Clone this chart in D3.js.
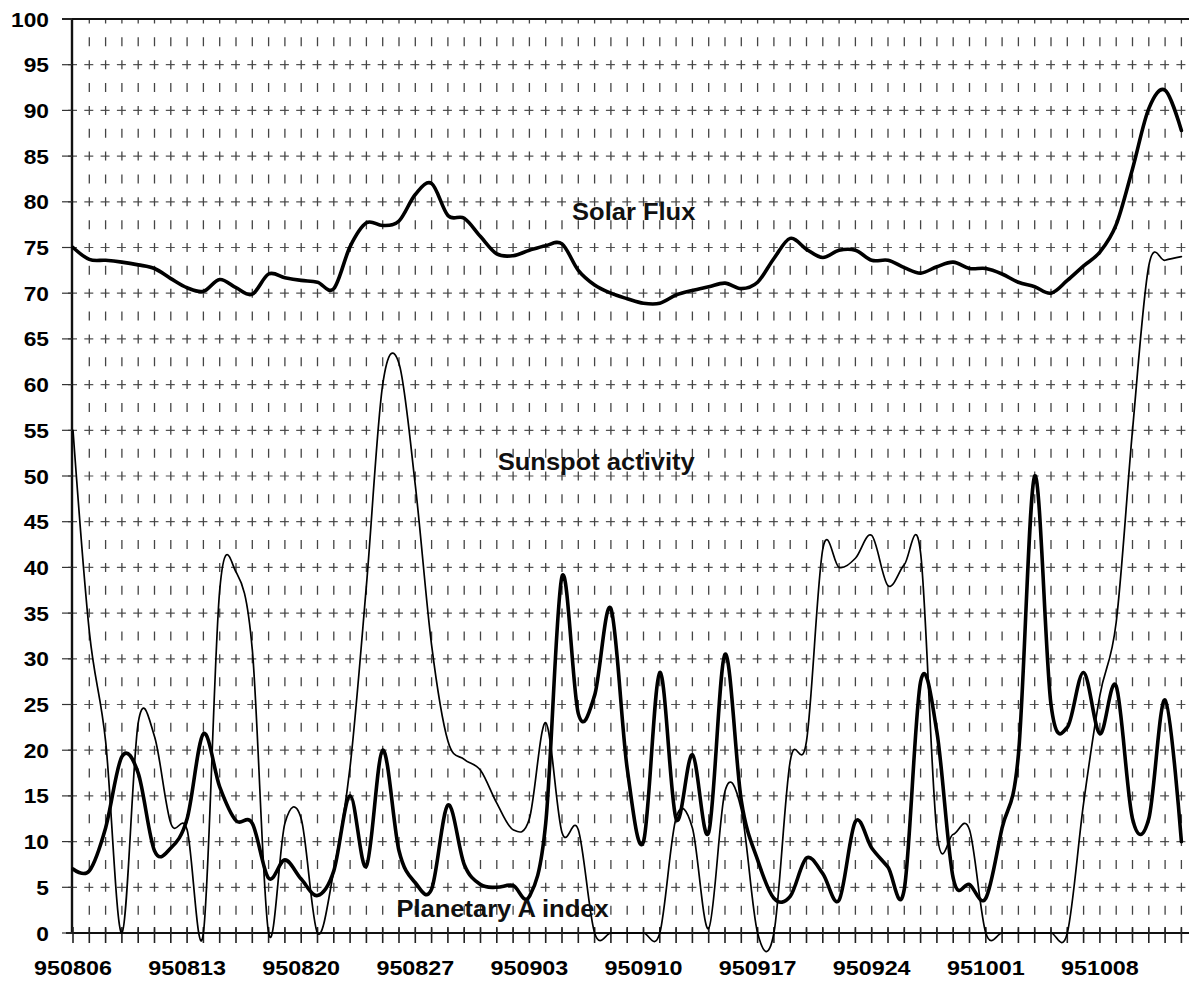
<!DOCTYPE html>
<html><head><meta charset="utf-8">
<script src="https://cdn.jsdelivr.net/npm/d3@7"></script>
<style>html,body{margin:0;padding:0;background:#fff;} svg{display:block;}</style>
</head><body><svg id="c" width="1189" height="981"></svg>
<script>
const categories = [
 "950806","950807","950808","950809","950810","950811","950812","950813","950814","950815",
 "950816","950817","950818","950819","950820","950821","950822","950823","950824","950825",
 "950826","950827","950828","950829","950830","950831","950901","950902","950903","950904",
 "950905","950906","950907","950908","950909","950910","950911","950912","950913","950914",
 "950915","950916","950917","950918","950919","950920","950921","950922","950923","950924",
 "950925","950926","950927","950928","950929","950930","951001","951002","951003","951004",
 "951005","951006","951007","951008","951009","951010","951011","951012","951013"];
const tickLabels = ["950806","950813","950820","950827","950903","950910","950917","950924","951001","951008"];
const yTicks = [0,5,10,15,20,25,30,35,40,45,50,55,60,65,70,75,80,85,90,95,100];
const solarFlux = [75.0,73.7,73.6,73.4,73.1,72.7,71.6,70.6,70.2,71.5,
 70.6,69.9,72.1,71.7,71.4,71.2,70.5,75.1,77.7,77.4,
 77.9,80.8,82.0,78.5,78.2,76.2,74.3,74.1,74.7,75.2,
 75.4,72.5,70.9,70.0,69.4,68.9,68.9,69.8,70.3,70.7,
 71.1,70.5,71.2,73.8,76.0,74.8,73.9,74.7,74.7,73.6,
 73.6,72.8,72.2,72.9,73.4,72.7,72.7,72.1,71.2,70.7,
 70.0,71.4,73.0,74.5,77.5,83.6,90.2,92.2,87.8];
const sunspot = [55,33,21,0,23,21.5,12,11.3,0,37.5,
 39.5,31,0,12,12.5,0,6.8,18.2,38,60,
 62.3,49,31.5,21,19,17.8,14.2,11.3,12.5,23,
 11,11.3,0,0,0,0,0,12.6,11.5,0.5,
 15.5,13.5,0,0,18.8,21,42,40,41,43.5,
 38,40.3,41.6,11,10.8,11.3,0,0,0,0,
 0,0,14.2,26,34,55,73,73.6,74];
const planetaryA = [7.0,6.8,11.5,19.3,17.5,9.0,9.3,12.5,21.8,16.0,
 12.3,12.0,6.0,8.0,5.9,4.1,6.8,15.0,7.3,20.0,
 9.0,5.5,4.8,14.0,7.5,5.3,5.0,5.2,4.0,12.0,
 39.0,24.0,26.0,35.5,18.0,10.0,28.5,12.5,19.5,11.0,
 30.5,14.5,8.0,3.8,4.0,8.2,6.5,3.6,12.2,9.3,
 7.2,4.8,27.5,22.0,6.0,5.3,3.8,11.5,19.5,50.0,
 25.0,22.5,28.5,21.8,27.0,12.5,12.5,25.5,10.0];
const seriesNames = ["Solar Flux","Sunspot activity","Planetary A index"];
// label anchors in data space: [category index (fractional), value]
const labelAnchors = [[34.4,78.0],[32.1,50.7],[26.35,1.75]];

const W = 1189, H = 981;
const svg = d3.select("#c");
const x = d3.scalePoint().domain(categories).range([73, 73 + 16.3*(categories.length-1)]);
const xAt = i => x(categories[0]) + i * x.step();
const y = d3.scaleLinear().domain([0,100]).range([933,19]);
const FONT = "'Liberation Sans', Arial, sans-serif";
const SX = 1.11;

const grid = svg.append("g");
grid.selectAll("line.h").data(yTicks.filter(v => v>0 && v<100)).join("line")
  .attr("x1", 62).attr("x2", W).attr("y1", d=>y(d)).attr("y2", d=>y(d))
  .attr("stroke","#555").attr("stroke-width",1.2)
  .attr("stroke-dasharray","9 7.3").attr("stroke-dashoffset", -6);
grid.selectAll("line.v").data(categories.slice(1)).join("line")
  .attr("x1", d=>x(d)).attr("x2", d=>x(d)).attr("y1", y(100)).attr("y2", y(0))
  .attr("stroke","#444").attr("stroke-width",1.3)
  .attr("stroke-dasharray","9 13.85").attr("stroke-dashoffset", 4.5);

svg.append("line").attr("x1",62).attr("x2",W).attr("y1",y(100)).attr("y2",y(100))
  .attr("stroke","#111").attr("stroke-width",2);
svg.append("line").attr("x1",66).attr("x2",W).attr("y1",y(0)).attr("y2",y(0))
  .attr("stroke","#111").attr("stroke-width",2);
svg.append("line").attr("x1",x(categories[0])-1).attr("x2",x(categories[0])-1).attr("y1",y(100)).attr("y2",y(0))
  .attr("stroke","#111").attr("stroke-width",2.4);
svg.selectAll("line.yt").data(yTicks).join("line")
  .attr("x1",62).attr("x2",72).attr("y1",d=>y(d)).attr("y2",d=>y(d))
  .attr("stroke","#333").attr("stroke-width",1.2);
svg.selectAll("line.xt").data(categories).join("line")
  .attr("x1",d=>x(d)).attr("x2",d=>x(d)).attr("y1",y(0)-6).attr("y2",y(0)+10)
  .attr("stroke","#222").attr("stroke-width",1.6);

svg.selectAll("text.yl").data(yTicks).join("text")
  .attr("transform", d => `translate(49,${y(d)+7.5}) scale(${SX},1)`)
  .attr("text-anchor","end").attr("font-family",FONT).attr("font-weight","bold")
  .attr("font-size",20.5).attr("fill","#000").text(d=>d);
svg.selectAll("text.xl").data(tickLabels).join("text")
  .attr("transform", d => `translate(${x(d)},975) scale(${SX},1)`)
  .attr("text-anchor","middle").attr("font-family",FONT).attr("font-weight","bold")
  .attr("font-size",21).attr("fill","#000").text(d=>d);

const line = d3.line().x((d,i)=>x(categories[i])).y(d=>y(d)).curve(d3.curveCardinal.tension(0));
const series = [
  {vals: solarFlux, w: 3.6},
  {vals: sunspot, w: 1.7},
  {vals: planetaryA, w: 3.6}
];
svg.selectAll("path.s").data(series).join("path")
  .attr("d", d=>line(d.vals)).attr("fill","none").attr("stroke","#000")
  .attr("stroke-width", d=>d.w).attr("stroke-linejoin","round").attr("stroke-linecap","round");

svg.selectAll("text.sl").data(seriesNames).join("text")
  .attr("transform", (d,i) => `translate(${xAt(labelAnchors[i][0])},${y(labelAnchors[i][1])}) scale(${SX},1)`)
  .attr("text-anchor","middle").attr("font-family",FONT).attr("font-weight","bold")
  .attr("font-size",23).attr("fill","#111").text(d=>d);
</script>
</body></html>
